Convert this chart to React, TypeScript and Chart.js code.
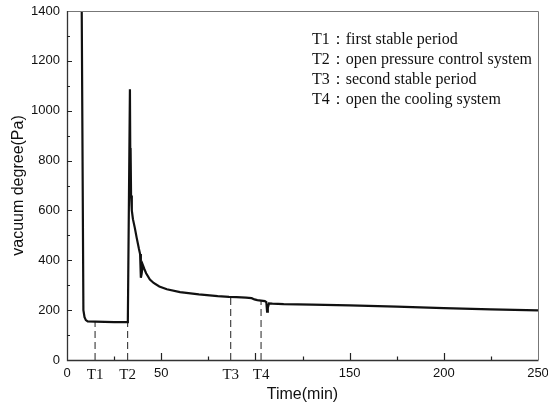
import React, { useEffect, useRef } from 'react';
import { Chart, registerables } from 'chart.js';

Chart.register(...registerables);

const timeMin = [7.6, 8.7, 9.3, 10.0, 11.0, 15, 20, 25, 30, 32.0, 32.3, 33.4, 33.6, 33.75, 34.0, 34.4, 35.0, 36.0, 37.0, 38.2, 38.8, 39.2, 39.6, 40.2, 41, 42, 44, 46, 49, 53, 60, 70, 80, 86, 90, 95, 98, 99.5, 101, 103, 105, 105.8, 106.2, 106.6, 107.2, 109, 115, 130, 150, 175, 200, 225, 250];
const vacuumPa = [1700, 200, 172, 160, 155, 154, 153, 152, 152, 152, 160, 1086, 800, 850, 660, 600, 565, 530, 490, 445, 425, 330, 345, 382, 366, 348, 323, 309, 295, 284, 272, 263, 256, 253, 252, 250, 248, 243, 240, 238, 236, 232, 194, 210, 227, 226, 224, 222, 219, 214, 208, 203, 199];

const markerTimes = [14.9, 32.2, 86.9, 103];
const markerTops = [153, 153, 253, 236];

const xTickValues = [0, 14.9, 32.2, 50, 86.9, 103, 150, 200, 250];
const xTickLabels = ['0', 'T1', 'T2', '50', 'T3', 'T4', '150', '200', '250'];
const xMajorTicks = [50, 100, 150, 200];
const xMinorTicks = [25, 75, 125, 175, 225];
const yMajorTicks = [200, 400, 600, 800, 1000, 1200];
const yMinorTicks = [100, 300, 500, 700, 900, 1100, 1300];

const noteLines = [
  'T1：first stable period',
  'T2：open pressure control system',
  'T3：second stable period',
  'T4：open the cooling system',
];

const SANS = '"Liberation Sans", Arial, sans-serif';
const SERIF = '"Liberation Serif", "Times New Roman", serif';

const framePlugin = {
  id: 'frameAndTicks',
  afterDraw(chart: any) {
    const { ctx, chartArea } = chart;
    const { left, right, top, bottom } = chartArea;
    const xs = chart.scales.x;
    const ys = chart.scales.y;
    ctx.save();
    ctx.setLineDash([]);
    // top / right frame
    ctx.strokeStyle = '#777';
    ctx.lineWidth = 1;
    ctx.beginPath();
    ctx.moveTo(left, top + 0.5);
    ctx.lineTo(right + 0.5, top + 0.5);
    ctx.lineTo(right + 0.5, bottom);
    ctx.stroke();
    // left / bottom axes
    ctx.strokeStyle = '#333';
    ctx.lineWidth = 1.3;
    ctx.beginPath();
    ctx.moveTo(left + 0.5, top);
    ctx.lineTo(left + 0.5, bottom + 0.5);
    ctx.lineTo(right + 0.5, bottom + 0.5);
    ctx.stroke();
    // inward ticks
    ctx.strokeStyle = '#222';
    ctx.lineWidth = 1.2;
    ctx.beginPath();
    xMajorTicks.forEach((v) => {
      const px = Math.round(xs.getPixelForValue(v)) + 0.5;
      ctx.moveTo(px, bottom);
      ctx.lineTo(px, bottom - 7);
    });
    xMinorTicks.forEach((v) => {
      const px = Math.round(xs.getPixelForValue(v)) + 0.5;
      ctx.moveTo(px, bottom);
      ctx.lineTo(px, bottom - 3.5);
    });
    yMajorTicks.forEach((v) => {
      const py = Math.round(ys.getPixelForValue(v)) + 0.5;
      ctx.moveTo(left, py);
      ctx.lineTo(left + 5, py);
    });
    yMinorTicks.forEach((v) => {
      const py = Math.round(ys.getPixelForValue(v)) + 0.5;
      ctx.moveTo(left, py);
      ctx.lineTo(left + 3, py);
    });
    ctx.stroke();
    // notes
    ctx.fillStyle = '#111';
    ctx.font = `16px ${SERIF}`;
    ctx.textBaseline = 'alphabetic';
    ctx.textAlign = 'left';
    noteLines.forEach((line, i) => {
      ctx.fillText(line, 312, 43.5 + i * 20.3);
    });
    ctx.restore();
  },
};

export default function App() {
  const ref = useRef<HTMLCanvasElement | null>(null);

  useEffect(() => {
    document.body.style.margin = '0';
    const canvas = ref.current;
    if (!canvas) return;
    const curve = timeMin.map((t, i) => ({ x: t, y: vacuumPa[i] }));
    const markerSets = markerTimes.map((t, i) => ({
      data: [
        { x: t, y: 0 },
        { x: t, y: markerTops[i] },
      ],
      borderColor: '#222',
      borderWidth: 1,
      borderDash: [7, 4],
      pointRadius: 0,
      fill: false,
    }));
    const chart = new Chart(canvas, {
      type: 'line',
      data: {
        datasets: [
          {
            data: curve,
            borderColor: '#111',
            borderWidth: 2.2,
            pointRadius: 0,
            tension: 0,
            fill: false,
          },
          ...markerSets,
        ],
      },
      options: {
        animation: false,
        responsive: false,
        devicePixelRatio: 1,
        layout: { padding: { left: 0, top: 11, right: 10, bottom: 0 } },
        plugins: {
          legend: { display: false },
          tooltip: { enabled: false },
        },
        scales: {
          x: {
            type: 'linear',
            min: 0,
            max: 250,
            afterBuildTicks: (scale: any) => {
              scale.ticks = xTickValues.map((v) => ({ value: v }));
            },
            afterFit: (scale: any) => {
              scale.height = 47;
              scale.paddingLeft = 0;
              scale.paddingRight = 0;
            },
            grid: { display: true, drawOnChartArea: false, drawTicks: false, tickLength: 0, color: 'rgba(0,0,0,0)' },
            border: { display: false },
            ticks: {
              autoSkip: false,
              maxRotation: 0,
              padding: 6,
              color: '#111',
              callback: (_v: any, i: number) => xTickLabels[i],
              font: (ctx: any) =>
                xTickLabels[ctx.index] && xTickLabels[ctx.index].startsWith('T')
                  ? { family: SERIF, size: 15 }
                  : { family: SANS, size: 13 },
            },
            title: {
              display: true,
              text: 'Time(min)',
              color: '#111',
              font: { family: SANS, size: 16 },
              padding: { top: 0, bottom: 3 },
            },
          },
          y: {
            type: 'linear',
            min: 0,
            max: 1400,
            afterFit: (scale: any) => {
              scale.width = 67;
              scale.paddingTop = 0;
              scale.paddingBottom = 0;
            },
            grid: { display: true, drawOnChartArea: false, drawTicks: false, tickLength: 0, color: 'rgba(0,0,0,0)' },
            border: { display: false },
            ticks: {
              stepSize: 200,
              padding: 7,
              color: '#111',
              font: { family: SANS, size: 13 },
              callback: (v: any) => String(v),
            },
            title: {
              display: true,
              text: 'vacuum degree(Pa)',
              color: '#111',
              font: { family: SANS, size: 16 },
              padding: { top: 9, bottom: 0 },
            },
          },
        },
      },
      plugins: [framePlugin],
    });
    return () => chart.destroy();
  }, []);

  return (
    <div style={{ width: 548, height: 407, background: '#fff' }}>
      <canvas ref={ref} width={548} height={407} style={{ display: 'block' }} />
    </div>
  );
}
